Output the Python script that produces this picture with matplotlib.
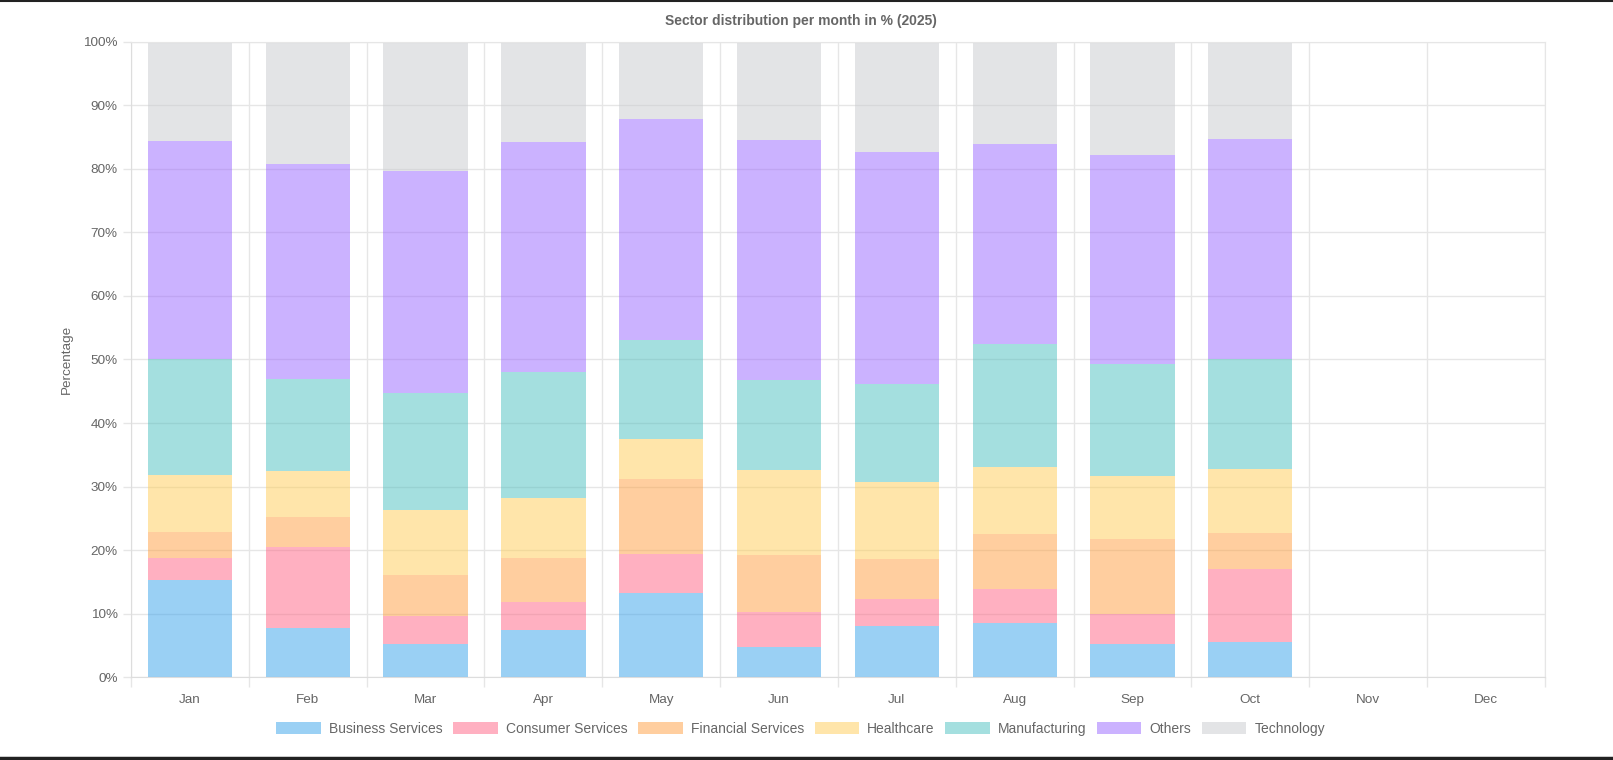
# --------------------------------------- #
# SECTOR DISTRIBUTION PER MONTH (STACKED) #
# --------------------------------------- #

import numpy as np
import matplotlib.pyplot as plt
from matplotlib.lines import Line2D
from matplotlib.ticker import FixedLocator, FuncFormatter, MultipleLocator

plt.rcParams["font.family"] = ["Liberation Sans", "DejaVu Sans"]

# --- data (% per month) --- #
months = ["Jan", "Feb", "Mar", "Apr", "May", "Jun", "Jul", "Aug", "Sep", "Oct", "Nov", "Dec"]

business = [15.3, 7.8, 5.2, 7.4, 13.2, 4.8, 8.1, 8.6, 5.3, 5.5, 0, 0]
consumer = [3.5, 12.7, 4.4, 4.4, 6.2, 5.5, 4.2, 5.3, 4.6, 11.5, 0, 0]
financial = [4.1, 4.7, 6.5, 6.9, 11.8, 8.9, 6.3, 8.7, 11.9, 5.7, 0, 0]
healthcare = [8.9, 7.2, 10.2, 9.5, 6.3, 13.4, 12.1, 10.5, 9.9, 10.0, 0, 0]
manufacturing = [18.2, 14.5, 18.4, 19.9, 15.6, 14.1, 15.5, 19.3, 17.6, 17.3, 0, 0]
others = [34.3, 33.8, 35.0, 36.1, 34.8, 37.9, 36.5, 31.5, 32.8, 34.7, 0, 0]
technology = [15.7, 19.3, 20.3, 15.8, 12.1, 15.4, 17.3, 16.1, 17.9, 15.3, 0, 0]

sectors = [
    ("Business Services", business, "#36A2EB"),
    ("Consumer Services", consumer, "#FF6384"),
    ("Financial Services", financial, "#FF9F40"),
    ("Healthcare", healthcare, "#FFCD56"),
    ("Manufacturing", manufacturing, "#4BC0C0"),
    ("Others", others, "#9966FF"),
    ("Technology", technology, "#C9CBCF"),
]

TEXT = "#666666"
GRID = "#e6e6e6"

# --- figure --- #
fig = plt.figure(figsize=(16.13, 7.6), dpi=100)
ax = fig.add_axes([0.0812, 0.1089, 0.8766, 0.8362])

x = np.arange(len(months))
bottom = np.zeros(len(months))
for name, vals, col in sectors:
    vals = np.array(vals, dtype=float)
    ax.bar(x, vals, width=0.715, bottom=bottom, color=col, alpha=0.5,
           linewidth=0, label=name, zorder=2)
    bottom += vals

# axes / grid
ax.set_xlim(-0.5, len(months) - 0.5)
ax.set_ylim(0, 100)
ax.set_axisbelow(True)

ax.yaxis.set_major_locator(MultipleLocator(10))
ax.yaxis.set_major_formatter(FuncFormatter(lambda v, _: f"{v:.0f}%"))
ax.grid(True, axis="y", color=GRID, linewidth=1)

ax.set_xticks(x)
ax.set_xticklabels(months)
ax.xaxis.set_minor_locator(FixedLocator(np.arange(-0.5, len(months), 1.0)))
ax.grid(True, axis="x", which="minor", color=GRID, linewidth=1)
ax.tick_params(axis="x", which="major", length=0, pad=12, labelsize=9.7, labelcolor=TEXT)
ax.tick_params(axis="x", which="minor", length=7, color=GRID, width=1)
ax.tick_params(axis="y", length=6, color=GRID, width=1, pad=3.5,
               labelsize=9.7, labelcolor=TEXT)

for side in ["top", "right"]:
    ax.spines[side].set_color(GRID)
ax.spines["left"].set_color("#dddddd")
ax.spines["bottom"].set_color("#dddddd")

ax.set_ylabel("Percentage", fontsize=9.7, color=TEXT, labelpad=7.5)

# title + legend
fig.text(0.4965, 0.972, "Sector distribution per month in % (2025)",
         ha="center", va="center", fontsize=10, fontweight="bold", color=TEXT)

fig.legend(loc="center", bbox_to_anchor=(0.4965, 0.041), ncol=7, frameon=False,
           fontsize=10, labelcolor=TEXT, handlelength=3.2, handleheight=1.0,
           handletextpad=0.6, columnspacing=0.75)

# screenshot frame lines top & bottom
fig.add_artist(Line2D([0, 1], [0.999, 0.999], color="#222222", lw=1.5))
fig.add_artist(Line2D([0, 1], [0.002, 0.002], color="#222222", lw=2.5))

fig.savefig("out.png", dpi=100)
